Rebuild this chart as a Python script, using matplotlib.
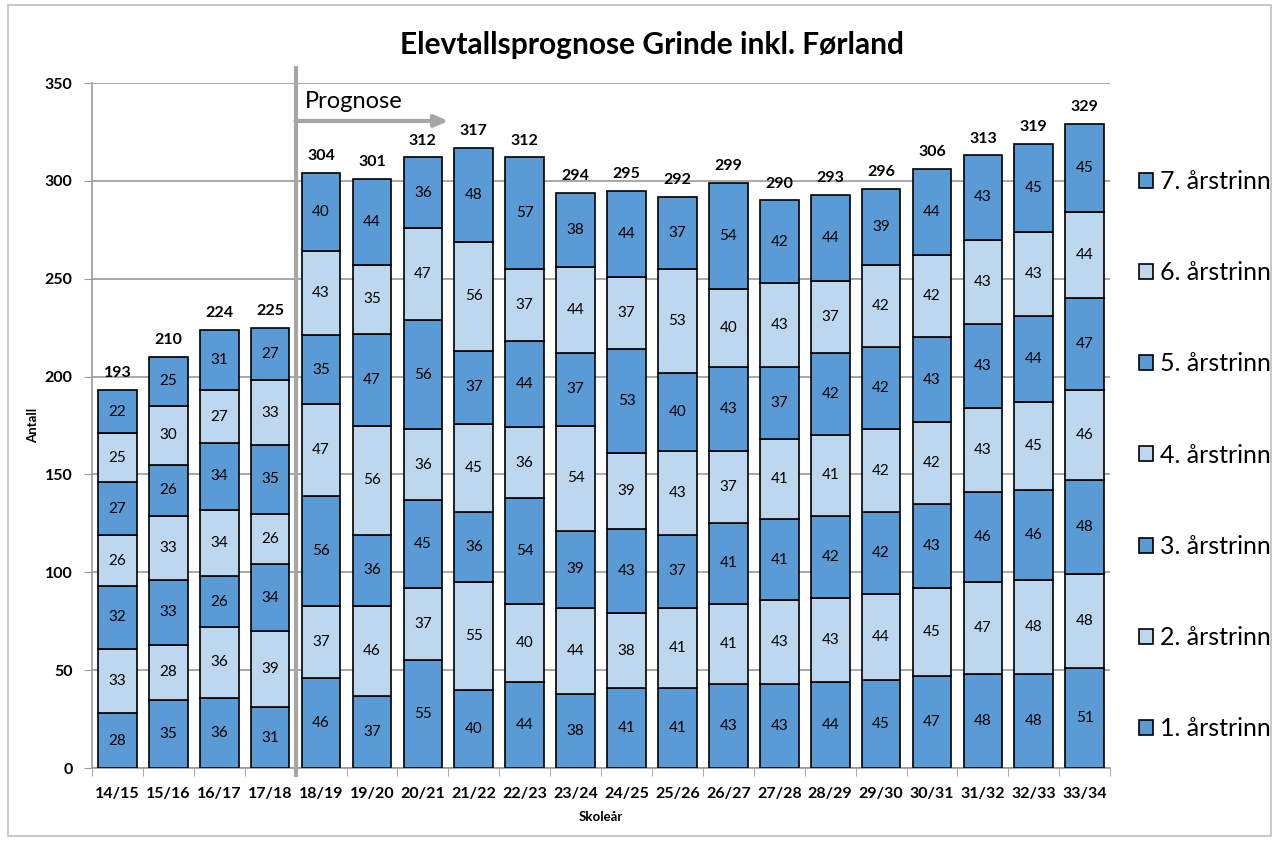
import matplotlib.pyplot as plt
import numpy as np
from matplotlib.patches import Rectangle

# Data
years = ['14/15', '15/16', '16/17', '17/18', '18/19', '19/20', '20/21', '21/22', '22/23', '23/24',
         '24/25', '25/26', '26/27', '27/28', '28/29', '29/30', '30/31', '31/32', '32/33', '33/34']
trinn1 = [28, 35, 36, 31, 46, 37, 55, 40, 44, 38, 41, 41, 43, 43, 44, 45, 47, 48, 48, 51]
trinn2 = [33, 28, 36, 39, 37, 46, 37, 55, 40, 44, 38, 41, 41, 43, 43, 44, 45, 47, 48, 48]
trinn3 = [32, 33, 26, 34, 56, 36, 45, 36, 54, 39, 43, 37, 41, 41, 42, 42, 43, 46, 46, 48]
trinn4 = [26, 33, 34, 26, 47, 56, 36, 45, 36, 54, 39, 43, 37, 41, 41, 42, 42, 43, 45, 46]
trinn5 = [27, 26, 34, 35, 35, 47, 56, 37, 44, 37, 53, 40, 43, 37, 42, 42, 43, 43, 44, 47]
trinn6 = [25, 30, 27, 33, 43, 35, 47, 56, 37, 44, 37, 53, 40, 43, 37, 42, 42, 43, 43, 44]
trinn7 = [22, 25, 31, 27, 40, 44, 36, 48, 57, 38, 44, 37, 54, 42, 44, 39, 44, 43, 45, 45]
series = [trinn1, trinn2, trinn3, trinn4, trinn5, trinn6, trinn7]
labels = ['1. årstrinn', '2. årstrinn', '3. årstrinn', '4. årstrinn',
          '5. årstrinn', '6. årstrinn', '7. årstrinn']

dark = '#5B9BD5'
light = '#BDD7EE'
colors = [dark, light, dark, light, dark, light, dark]

plt.rcParams['font.family'] = ['Lato', 'DejaVu Sans']

fig = plt.figure(figsize=(12.79, 8.41), dpi=100)
ax = fig.add_axes([0.0719, 0.0868, 0.7961, 0.8145])

x = np.arange(len(years))
bottom = np.zeros(len(years))
handles = []
for vals, col, lab in zip(series, colors, labels):
    vals = np.array(vals)
    bars = ax.bar(x, vals, 0.76, bottom=bottom, color=col, edgecolor='black',
                  linewidth=1.2, label=lab, zorder=3)
    handles.append(bars)
    for xi, b, v in zip(x, bottom, vals):
        ax.text(xi, b + v / 2, str(v), ha='center', va='center', fontsize=11, zorder=4)
    bottom = bottom + vals

for xi, t in zip(x, bottom):
    ax.text(xi, t + 5, str(int(t)), ha='center', va='bottom', fontsize=11.5,
            fontweight='bold', zorder=4)

ax.set_xlim(-0.5, len(years) - 0.5)
ax.set_ylim(0, 350)
ax.set_yticks(np.arange(0, 351, 50))
ax.set_xticks(x)
ax.set_xticklabels(years, fontsize=11.5, fontweight='bold')
for lbl in ax.get_yticklabels():
    lbl.set_fontweight('bold')
    lbl.set_fontsize(11.5)
ax.tick_params(axis='x', length=0, pad=14)
ax.set_xticks(np.arange(-0.5, len(years), 1), minor=True)
ax.tick_params(axis='x', which='minor', length=6, color='#999999')
ax.tick_params(axis='y', length=6, color='#999999', pad=8)
ax.grid(axis='y', color='#999999', linewidth=1.2, zorder=0)
for s in ['top', 'right']:
    ax.spines[s].set_visible(False)
ax.spines['left'].set_color('#999999')
ax.spines['bottom'].set_color('#999999')
ax.spines['left'].set_linewidth(1.2)
ax.spines['bottom'].set_linewidth(1.2)

ax.set_ylabel('Antall', fontsize=9.5, fontweight='bold', labelpad=4)
ax.set_xlabel('Skoleår', fontsize=9.5, fontweight='bold', labelpad=7)
fig.text(0.51, 0.946, 'Elevtallsprognose Grinde inkl. Førland', ha='center', va='center',
         fontsize=21.5, fontweight='bold')

# Prognose separator and arrow
ax.plot([3.5, 3.5], [-3.6, 357.7], color='#A6A6A6', linewidth=3, clip_on=False, zorder=5)
ax.annotate('', xy=(6.5, 330.6), xytext=(3.5, 330.6),
            arrowprops=dict(arrowstyle='-|>,head_width=0.35,head_length=0.8',
                            color='#A6A6A6', linewidth=3, shrinkA=0, shrinkB=0))
ax.text(3.68, 340.5, 'Prognose', fontsize=17, ha='left', va='center')

leg = ax.legend(handles[::-1], labels[::-1], loc='upper left', bbox_to_anchor=(1.006, 0.906),
                frameon=False, fontsize=18, labelspacing=2.73, handlelength=0.55,
                handleheight=0.55, handletextpad=0.3)

fig.patches.append(Rectangle((0.006, 0.006), 0.988, 0.988, transform=fig.transFigure,
                             fill=False, edgecolor='#BFBFBF', linewidth=1.2))

fig.savefig('out.png', dpi=100)
